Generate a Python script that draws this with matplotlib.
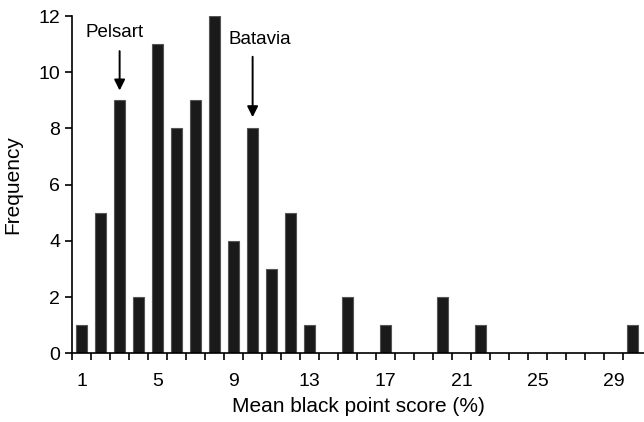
import matplotlib.pyplot as plt

plt.rcParams['font.family'] = ['Liberation Sans', 'DejaVu Sans']

# Mean black point score (%) bins and their counts
scores = list(range(1, 31))
freq = [1, 5, 9, 2, 11, 8, 9, 12, 4, 8,
        3, 5, 1, 0, 2, 0, 1, 0, 0, 2,
        0, 1, 0, 0, 0, 0, 0, 0, 0, 1]
tick_labels = [1, 5, 9, 13, 17, 21, 25, 29]

fig = plt.figure(figsize=(6.44, 4.22), dpi=100)
ax = fig.add_axes([0.112, 0.163, 0.888, 0.799])

ax.bar(scores, freq, width=0.55, color='#1a1a1a', edgecolor='#555555', linewidth=0.8)

ax.set_xlim(0.5, 30.6)
ax.set_ylim(0, 12)
ax.set_yticks(range(0, 13, 2))
ax.set_xticks(tick_labels)
ax.set_xticks([s + 0.5 for s in range(0, 30)], minor=True)
ax.tick_params(axis='x', which='major', length=0, labelsize=14, pad=14)
ax.tick_params(axis='x', which='minor', length=5, width=1.2, direction='out')
ax.tick_params(axis='y', labelsize=14, length=5, width=1.2, direction='out')

for s in ['top', 'right']:
    ax.spines[s].set_visible(False)
for s in ['left', 'bottom']:
    ax.spines[s].set_linewidth(1.2)

ax.set_xlabel('Mean black point score (%)', fontsize=15, labelpad=5)
ax.set_ylabel('Frequency', fontsize=15, labelpad=12)

arrow = dict(arrowstyle='-|>', color='black', lw=1.4, mutation_scale=16)
ax.annotate('', xy=(3, 9.25), xytext=(3, 10.85), arrowprops=arrow)
ax.text(2.75, 11.4, 'Pelsart', ha='center', va='center', fontsize=13.5)
ax.annotate('', xy=(10, 8.3), xytext=(10, 10.65), arrowprops=arrow)
ax.text(10.4, 11.15, 'Batavia', ha='center', va='center', fontsize=13.5)

fig.savefig('out.png', dpi=100)
